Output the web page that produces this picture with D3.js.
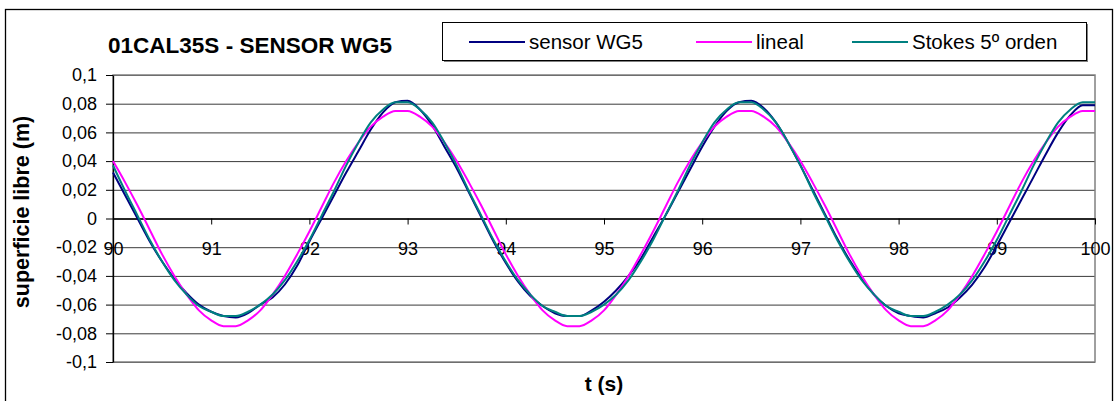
<!DOCTYPE html>
<html>
<head>
<meta charset="utf-8">
<script src="https://cdn.jsdelivr.net/npm/d3@7"></script>
<style>
  body { margin: 0; background: #fff; }
  svg { display: block; }
  text { font-family: "Liberation Sans", Arial, sans-serif; fill: #000; }
</style>
</head>
<body>
<svg id="chart" width="1118" height="401"></svg>
<script>
// chart texts
const chartTitle = '01CAL35S - SENSOR WG5';
const xTitle = 't (s)';
const yTitle = 'superficie libre (m)';
const seriesNames = ['sensor WG5', 'lineal', 'Stokes 5º orden'];
const seriesColours = ['#000080', '#ff00ff', '#008080'];

// axis ticks
const xTicks = [90, 91, 92, 93, 94, 95, 96, 97, 98, 99, 100];
const yTicks = [-0.1, -0.08, -0.06, -0.04, -0.02, 0, 0.02, 0.04, 0.06, 0.08, 0.1];

// samples start at t = 90 s, one every 0.125 s
const sampleStart = 90;
const sampleStep = 0.125;

// surface elevation (m)
const sensorWG5 = [
  0.032, 0.016, 0.000, -0.016, -0.030, -0.042, -0.052, -0.060, -0.065, -0.068, -0.069, -0.066, -0.060, -0.055,
  -0.046, -0.033, -0.016, 0.000, 0.016, 0.032, 0.047, 0.062, 0.074, 0.081, 0.082, 0.076, 0.065, 0.050,
  0.035, 0.018, 0.001, -0.016, -0.031, -0.044, -0.054, -0.061, -0.066, -0.068, -0.068, -0.064, -0.058, -0.050,
  -0.040, -0.028, -0.013, 0.002, 0.018, 0.034, 0.050, 0.064, 0.075, 0.081, 0.082, 0.077, 0.067, 0.053,
  0.037, 0.020, 0.003, -0.014, -0.029, -0.042, -0.053, -0.061, -0.066, -0.068, -0.069, -0.066, -0.062, -0.055,
  -0.046, -0.034, -0.019, -0.003, 0.013, 0.029, 0.045, 0.060, 0.072, 0.079, 0.079
];

const lineal = [
  0.040, 0.025, 0.009, -0.008, -0.025, -0.040, -0.053, -0.064, -0.071, -0.075, -0.075, -0.071, -0.064, -0.053,
  -0.040, -0.025, -0.009, 0.008, 0.025, 0.040, 0.053, 0.064, 0.071, 0.075, 0.075, 0.071, 0.064, 0.053,
  0.040, 0.025, 0.009, -0.008, -0.025, -0.040, -0.053, -0.064, -0.071, -0.075, -0.075, -0.071, -0.064, -0.053,
  -0.040, -0.025, -0.009, 0.008, 0.025, 0.040, 0.053, 0.064, 0.071, 0.075, 0.075, 0.071, 0.064, 0.053,
  0.040, 0.025, 0.009, -0.008, -0.025, -0.040, -0.053, -0.064, -0.071, -0.075, -0.075, -0.071, -0.064, -0.053,
  -0.040, -0.025, -0.009, 0.008, 0.025, 0.040, 0.053, 0.064, 0.071, 0.075, 0.075
];

const stokes5 = [
  0.037, 0.019, 0.002, -0.015, -0.030, -0.043, -0.053, -0.061, -0.065, -0.068, -0.068, -0.065, -0.060, -0.053,
  -0.043, -0.030, -0.015, 0.002, 0.019, 0.037, 0.053, 0.067, 0.076, 0.081, 0.081, 0.076, 0.067, 0.053,
  0.037, 0.019, 0.002, -0.015, -0.030, -0.043, -0.053, -0.061, -0.065, -0.068, -0.068, -0.065, -0.060, -0.053,
  -0.043, -0.030, -0.015, 0.002, 0.019, 0.037, 0.053, 0.067, 0.076, 0.081, 0.081, 0.076, 0.067, 0.053,
  0.037, 0.019, 0.002, -0.015, -0.030, -0.043, -0.053, -0.061, -0.065, -0.068, -0.068, -0.065, -0.060, -0.053,
  -0.043, -0.030, -0.015, 0.002, 0.019, 0.037, 0.053, 0.067, 0.076, 0.081, 0.081
];

const seriesData = [sensorWG5, lineal, stokes5];

// layout
const svg = d3.select('#chart');
const plot = { l: 113, r: 1095, t: 75, b: 362 };

const x = d3.scaleLinear().domain([90, 100]).range([plot.l, plot.r]);
const y = d3.scaleLinear().domain([-0.1, 0.1]).range([plot.b, plot.t]);

const fmtComma = d => (d === 0 ? '0' : String(+d.toFixed(2)).replace('.', ','));

// outer chart frame
svg.append('rect')
  .attr('x', 5.5).attr('y', 9.5)
  .attr('width', 1107).attr('height', 400)
  .attr('fill', 'none').attr('stroke', '#000').attr('stroke-width', 1.3);

// horizontal gridlines
svg.append('g')
  .attr('transform', `translate(${plot.l},0)`)
  .call(d3.axisLeft(y).tickValues(yTicks).tickSize(-(plot.r - plot.l)).tickFormat(''))
  .call(g => g.select('.domain').remove())
  .call(g => g.selectAll('line').attr('stroke', '#3a3a3a'));

// plot area border
svg.append('rect')
  .attr('x', plot.l).attr('y', plot.t)
  .attr('width', plot.r - plot.l).attr('height', plot.b - plot.t)
  .attr('fill', 'none').attr('stroke', '#808080').attr('stroke-width', 1.5);

// y axis
svg.append('g')
  .attr('transform', `translate(${plot.l},0)`)
  .call(d3.axisLeft(y).tickValues(yTicks).tickSize(7).tickSizeOuter(0).tickFormat(fmtComma))
  .call(g => g.select('.domain').attr('stroke', '#000').attr('stroke-width', 1.3))
  .call(g => g.selectAll('.tick line').attr('stroke', '#000'))
  .call(g => g.selectAll('.tick text')
    .attr('x', -16)
    .style('font-size', '18px')
    .style('font-family', '"Liberation Sans", Arial, sans-serif'));

// x axis, sitting on zero
svg.append('g')
  .attr('transform', `translate(0,${y(0)})`)
  .call(d3.axisBottom(x).tickValues(xTicks).tickSize(6).tickSizeOuter(0).tickFormat(d => d))
  .call(g => g.select('.domain').attr('stroke', '#000').attr('stroke-width', 1.3))
  .call(g => g.selectAll('.tick line').attr('stroke', '#000'))
  .call(g => g.selectAll('.tick text')
    .attr('y', 24)
    .style('font-size', '18px')
    .style('font-family', '"Liberation Sans", Arial, sans-serif'));

// series lines
const line = d3.line()
  .x((d, i) => x(sampleStart + i * sampleStep))
  .y(d => y(d))
  .curve(d3.curveMonotoneX);

svg.append('g')
  .selectAll('path')
  .data(seriesData)
  .join('path')
  .attr('d', d => line(d))
  .attr('fill', 'none')
  .attr('stroke', (d, i) => seriesColours[i])
  .attr('stroke-width', 2)
  .attr('stroke-linejoin', 'round');

// title
svg.append('text')
  .attr('x', 250).attr('y', 53)
  .attr('text-anchor', 'middle')
  .style('font-size', '22.5px').style('font-weight', 'bold')
  .text(chartTitle);

// axis titles
svg.append('text')
  .attr('x', (plot.l + plot.r) / 2).attr('y', 391)
  .attr('text-anchor', 'middle')
  .style('font-size', '21px').style('font-weight', 'bold')
  .text(xTitle);

svg.append('text')
  .attr('transform', `translate(29,212) rotate(-90)`)
  .attr('text-anchor', 'middle')
  .style('font-size', '21.5px').style('font-weight', 'bold')
  .text(yTitle);

// legend
const legend = { x: 442, y: 22, w: 644, h: 38 };
const legendItemX = [469, 696, 852];

svg.append('rect')
  .attr('x', legend.x + 2).attr('y', legend.y + 2)
  .attr('width', legend.w).attr('height', legend.h)
  .attr('fill', '#808080');
svg.append('rect')
  .attr('x', legend.x + 0.5).attr('y', legend.y + 0.5)
  .attr('width', legend.w).attr('height', legend.h)
  .attr('fill', '#fff').attr('stroke', '#000').attr('stroke-width', 1);

const items = svg.append('g')
  .selectAll('g')
  .data(seriesNames)
  .join('g')
  .attr('transform', (d, i) => `translate(${legendItemX[i]},${legend.y + legend.h / 2 + 1})`);

items.append('line')
  .attr('x1', 0).attr('x2', 56)
  .attr('stroke', (d, i) => seriesColours[i])
  .attr('stroke-width', 2);

items.append('text')
  .attr('x', 60).attr('dy', '0.35em')
  .style('font-size', '20.5px')
  .text(d => d);
</script>
</body>
</html>
